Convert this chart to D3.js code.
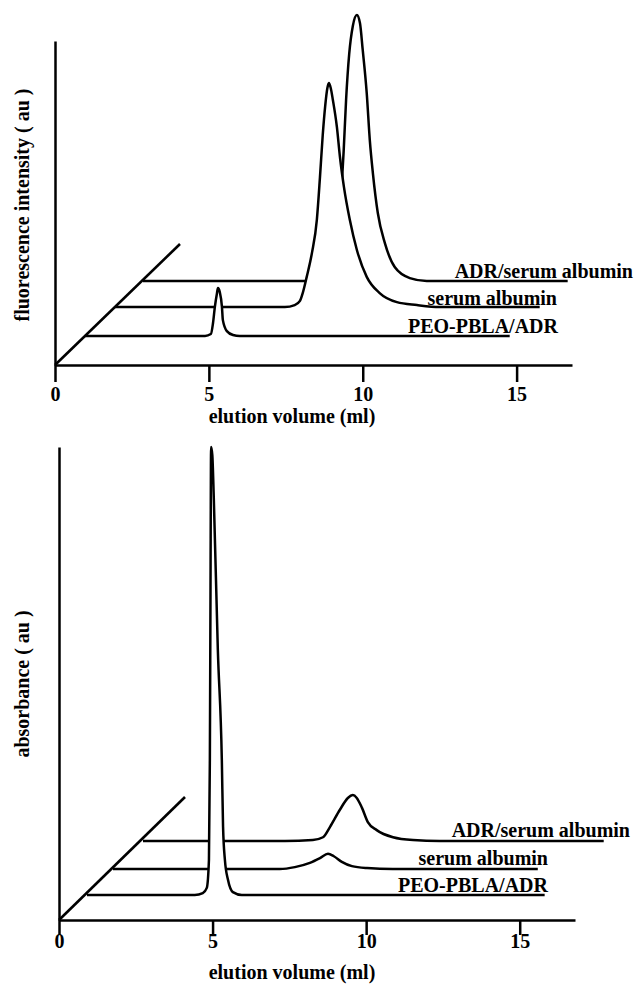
<!DOCTYPE html>
<html>
<head>
<meta charset="utf-8">
<script src="https://cdn.jsdelivr.net/npm/d3@7"></script>
<style>
  body { margin: 0; background: #fff; }
  text { font-family: "Liberation Serif", "Times New Roman", serif; font-weight: bold; fill: #000; }
</style>
</head>
<body>
<div id="chart"></div>
<script>
// tick labels of the front elution-volume axis
const volumeTicks = [0, 5, 10, 15];
const seriesNames = ["PEO-PBLA/ADR", "serum albumin", "ADR/serum albumin"];

// each trace: [elution volume along its own baseline (ml), signal (au)]
const fluoPeo = [[0,0],[3.9,0],[4.09,0.6],[4.16,4],[4.22,9],[4.29,13.3],[4.32,14.8],[4.38,13.6],
  [4.45,9],[4.48,4.9],[4.61,1.5],[4.81,0.3],[5.03,0],[13.8,0]];
const fluoAlb = [[0,0],[5.52,0],[5.84,0.6],[6.01,1.9],[6.1,4.3],[6.23,9.3],[6.4,16.7],[6.56,27],
  [6.66,40],[6.75,53],[6.83,62],[6.9,67.5],[6.95,69.1],[7.01,67.6],[7.08,63.9],
  [7.21,55.6],[7.31,46.3],[7.44,37],[7.63,26.9],[7.86,17.6],[8.18,9.3],[8.6,4.3],[9.16,1.5],
  [9.81,0.6],[10.55,0],[13.8,0]];
const fluoAdrAlb = [[0,0],[5.75,0],[6.04,1.2],[6.27,9.6],[6.43,25],[6.52,40],[6.6,56],
  [6.7,70],[6.82,78.8],[6.95,82.1],[7.05,79.6],[7.14,71.3],[7.27,58],[7.37,43.5],
  [7.47,33.3],[7.63,21],[7.86,11.7],[8.18,4.3],[8.67,0.9],[9.22,0],[13.8,0]];

const absPeo = [[0,0],[3.51,0],[3.77,0.4],[3.9,1.5],[3.97,7.4],[4.0,28.5],[4.02,62.4],[4.04,94.7],
  [4.08,93],[4.13,83.5],[4.26,51.8],[4.39,28.5],[4.43,14.4],[4.49,7.4],[4.59,3.2],[4.75,0.6],
  [5.04,0],[14.9,0]];
const absAlb = [[0,0],[5.43,0],[5.92,0.4],[6.41,1.3],[6.74,2.3],[7.0,3.2],[7.19,2.7],[7.45,1.5],
  [7.78,0.6],[8.27,0.2],[9.11,0],[13.83,0]];
const absAdrAlb = [[0,0],[4.62,0],[5.53,0.2],[5.86,0.8],[6.09,3],[6.41,6.6],[6.67,9.1],[6.83,9.7],
  [6.96,9.1],[7.13,7],[7.32,4],[7.61,2.3],[8.14,0.8],[8.79,0.2],[9.66,0],[15.0,0]];

const W = 636, H = 987;
const svg = d3.select("#chart").append("svg").attr("width", W).attr("height", H);

const panels = [
  {
    yTitle: "fluorescence intensity ( au )", yTitleY: 205,
    top: 41, axisY: 365, x0: 55, x1: 572, tickLen: 17, tickLabelY: 36, titleY: 423,
    traces: [fluoPeo, fluoAlb, fluoAdrAlb],
    offsets: [[30, -29], [60, -58], [88, -84]],
    diag: [125, -121],
    labels: [[558, 333], [557, 305], [633, 278]]
  },
  {
    yTitle: "absorbance ( au )", yTitleY: 684,
    top: 447, axisY: 920, x0: 59, x1: 575, tickLen: 15, tickLabelY: 28, titleY: 979,
    traces: [absPeo, absAlb, absAdrAlb],
    offsets: [[28, -25], [54, -51], [84, -79]],
    diag: [126, -123],
    labels: [[548, 892], [548, 865], [630, 837]]
  }
];

panels.forEach(p => {
  const g = svg.append("g");
  const x = d3.scaleLinear().domain([0, 16.8]).range([p.x0, p.x1]);
  const y = d3.scaleLinear().domain([0, 100]).range([p.axisY, p.top]);

  // front axis
  const xAxis = g.append("g")
    .attr("transform", `translate(0,${p.axisY})`)
    .call(d3.axisBottom(x).tickValues(volumeTicks).tickSize(p.tickLen).tickSizeOuter(0));
  xAxis.selectAll("path, line").attr("stroke", "#000").attr("stroke-width", 2.5);
  xAxis.selectAll("text")
    .attr("font-size", 20)
    .attr("y", p.tickLabelY).attr("dy", null);

  const yAxis = g.append("g")
    .attr("transform", `translate(${p.x0},0)`)
    .call(d3.axisLeft(y).ticks(0).tickSizeOuter(0));
  yAxis.select("path").attr("stroke", "#000").attr("stroke-width", 2.5);

  // depth axis
  g.append("line")
    .attr("x1", x(0)).attr("y1", p.axisY)
    .attr("x2", x(0) + p.diag[0]).attr("y2", p.axisY + p.diag[1])
    .attr("stroke", "#000").attr("stroke-width", 2.6);

  const area = d3.area().x(d => x(d[0])).y0(y(0)).y1(d => y(d[1])).curve(d3.curveMonotoneX);
  const line = d3.line().x(d => x(d[0])).y(d => y(d[1])).curve(d3.curveMonotoneX);

  // back to front so nearer traces hide the ones behind
  d3.range(p.traces.length).reverse().forEach(i => {
    const s = g.append("g")
      .attr("transform", `translate(${p.offsets[i][0]},${p.offsets[i][1]})`);
    s.append("path").attr("d", area(p.traces[i])).attr("fill", "#fff");
    s.append("path").attr("d", line(p.traces[i]))
      .attr("fill", "none").attr("stroke", "#000").attr("stroke-width", 2.5);
    g.append("text")
      .attr("x", p.labels[i][0]).attr("y", p.labels[i][1])
      .attr("text-anchor", "end").attr("font-size", 20)
      .text(seriesNames[i]);
  });

  g.append("text")
    .attr("x", 292).attr("y", p.titleY)
    .attr("text-anchor", "middle").attr("font-size", 20)
    .text("elution volume (ml)");

  g.append("text")
    .attr("transform", `translate(29,${p.yTitleY}) rotate(-90)`)
    .attr("text-anchor", "middle").attr("font-size", 20)
    .text(p.yTitle);
});
</script>
</body>
</html>
